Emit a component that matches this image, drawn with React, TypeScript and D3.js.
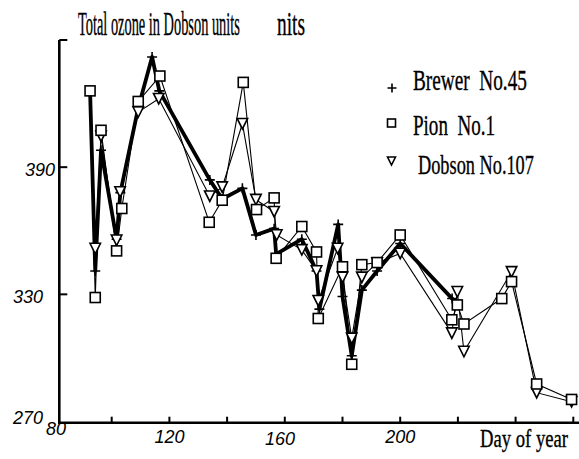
import React, { useRef, useEffect } from 'react';
import * as d3 from 'd3';

// [day of year, total ozone in Dobson units]
const brewer: [number, number][] = [
  [92.5, 426], [94.3, 341], [96.3, 398], [101.7, 356], [103, 378], [109.2, 418],
  [114, 442], [116.5, 426], [134, 384], [138.3, 375], [145.3, 380], [150, 358],
  [156.3, 361], [157, 349], [165.9, 356], [171, 341], [172, 323], [178.5, 363],
  [180, 329], [183.2, 301], [186.7, 332], [192, 341], [200, 354], [218, 328], [220, 325],
];

const pion: [number, number][] = [
  [92.5, 426], [94.3, 328.5], [96.3, 407.4], [101.7, 350.5], [103.5, 370.5], [109.2, 421],
  [116.7, 433], [133.8, 364], [138.3, 374.4], [145.6, 430], [150.2, 370], [156.3, 375.5],
  [157, 347], [165.9, 362], [171, 350], [171.6, 318.6], [180, 343], [183.2, 297],
  [186.7, 344], [192, 345], [200, 358], [217.9, 318], [219.8, 325], [222.1, 316],
  [235.2, 328], [238.6, 336], [247.3, 287.7], [259.4, 280.4],
];

const dobson: [number, number][] = [
  [94.3, 351.6], [96.3, 404.6], [101.7, 355.5], [102.9, 378.3], [109.2, 416], [116.3, 422.3],
  [134, 376.3], [138.3, 380.6], [145.3, 410.5], [150, 374.7], [156.3, 369], [157.2, 358],
  [165.9, 351], [171, 341], [171.6, 327], [178.3, 351.6], [180, 338], [183.2, 309.2],
  [186.7, 338], [192, 344.8], [200, 349.3], [217.9, 311.7], [219.8, 331.2], [222.1, 303],
  [238.6, 340.6], [247.3, 283.6], [259.4, 279.3],
];

const xTicks = [100, 120, 140, 160, 180, 200, 220, 240, 260];
const xTickLabels = [80, 120, 160, 200];
const yTicks = [330, 390, 450];
const yTickLabels = [270, 330, 390];
const legendNames = ['Brewer\u00a0\u00a0No.45', 'Pion\u00a0\u00a0No.1', 'Dobson No.107'];

const W = 579;
const H = 459;

export default function App() {
  const svgRef = useRef<SVGSVGElement>(null);

  useEffect(() => {
    if (!svgRef.current) return;
    const svg = d3.select(svgRef.current);
    svg.selectAll('*').remove();

    const x = d3.scaleLinear().domain([80, 260]).range([54, 573.3]);
    const y = d3.scaleLinear().domain([270, 450]).range([421.5, 40]);
    const axisX = 59.3;
    const axisY = 422.7;

    // axes
    svg.append('line').attr('x1', axisX).attr('x2', axisX).attr('y1', 40).attr('y2', axisY + 1.2)
      .attr('stroke', '#000').attr('stroke-width', 2.6);
    svg.append('line').attr('x1', axisX - 1.2).attr('x2', W).attr('y1', axisY).attr('y2', axisY)
      .attr('stroke', '#000').attr('stroke-width', 2.6);

    yTicks.forEach(t => {
      svg.append('line').attr('x1', axisX).attr('x2', axisX + 8).attr('y1', y(t)).attr('y2', y(t))
        .attr('stroke', '#000').attr('stroke-width', 2);
    });
    xTicks.forEach(t => {
      svg.append('line').attr('x1', x(t)).attr('x2', x(t)).attr('y1', axisY).attr('y2', axisY - 6)
        .attr('stroke', '#000').attr('stroke-width', 2);
    });

    const tickFont = '"Liberation Sans", Arial, sans-serif';
    yTickLabels.forEach(t => {
      svg.append('text').attr('x', t === 390 ? 55 : 43).attr('y', t === 270 ? 424 : y(t) + 9)
        .attr('text-anchor', 'end').attr('font-family', tickFont).attr('font-style', 'italic')
        .attr('font-size', 18).text(t);
    });
    xTickLabels.forEach(t => {
      const px = t === 80 ? 56 : t === 160 ? 280 : x(t);
      const py = t === 80 ? 435 : t === 160 ? 445 : 443;
      svg.append('text').attr('x', px).attr('y', py)
        .attr('text-anchor', 'middle').attr('font-family', tickFont).attr('font-style', 'italic')
        .attr('font-size', 18).text(t);
    });

    // narrow serif text: squeeze horizontally to the width seen in the scan
    const serif = '"Liberation Serif", "Times New Roman", serif';
    const condensed = (tx: number, ty: number, size: number, len: number, s: string) => {
      const t = svg.append('text').attr('font-family', serif).attr('font-size', size)
        .attr('stroke', '#000').attr('stroke-width', 0.35).text(s);
      const natural = (t.node() as SVGTextElement).getComputedTextLength() || len;
      t.attr('transform', `translate(${tx},${ty}) scale(${len / natural},1)`);
    };

    condensed(78, 35, 33, 162, 'Total ozone in Dobson units');
    condensed(277, 35, 33, 28, 'nits');
    condensed(480, 447, 25, 88, 'Day of year');

    // lines
    const line = d3.line<[number, number]>().x(d => x(d[0])).y(d => y(d[1]));
    svg.append('path').datum(pion).attr('d', line).attr('fill', 'none')
      .attr('stroke', '#000').attr('stroke-width', 1.1);
    svg.append('path').datum(dobson).attr('d', line).attr('fill', 'none')
      .attr('stroke', '#000').attr('stroke-width', 1.1);
    svg.append('path').datum(brewer).attr('d', line).attr('fill', 'none')
      .attr('stroke', '#000').attr('stroke-width', 3.8).attr('stroke-linejoin', 'round');

    // markers
    const plus = (g: any, cx: number, cy: number, r: number) => {
      g.append('path').attr('d', `M${cx - r},${cy}H${cx + r}M${cx},${cy - r}V${cy + r}`)
        .attr('stroke', '#000').attr('stroke-width', 1.6).attr('fill', 'none');
    };
    const square = (g: any, cx: number, cy: number, s: number) => {
      g.append('rect').attr('x', cx - s / 2).attr('y', cy - s / 2).attr('width', s).attr('height', s)
        .attr('fill', '#fff').attr('stroke', '#000').attr('stroke-width', 1.6);
    };
    const tri = (g: any, cx: number, cy: number, s: number) => {
      g.append('path').attr('d', `M${cx - s / 2},${cy - s / 2}L${cx + s / 2},${cy - s / 2}L${cx},${cy + s / 2}Z`)
        .attr('fill', '#fff').attr('stroke', '#000').attr('stroke-width', 1.6);
    };

    const marks = svg.append('g');
    brewer.forEach(d => plus(marks, x(d[0]), y(d[1]), 5));
    dobson.forEach(d => tri(marks, x(d[0]), y(d[1]), 10.5));
    pion.forEach(d => square(marks, x(d[0]), y(d[1]), 10));

    // legend
    const legendY = [88, 123, 161];
    plus(svg, 392, legendY[0], 4.5);
    square(svg, 391.5, legendY[1], 8);
    tri(svg, 391.5, legendY[2], 8);
    condensed(413, 90, 30, 114, legendNames[0]);
    condensed(413, 135, 30, 82, legendNames[1]);
    condensed(418, 174, 28, 116, legendNames[2]);
  }, []);

  return (
    <svg ref={svgRef} width={W} height={H}
      style={{ position: 'absolute', left: 0, top: 0, background: '#fff' }} />
  );
}
